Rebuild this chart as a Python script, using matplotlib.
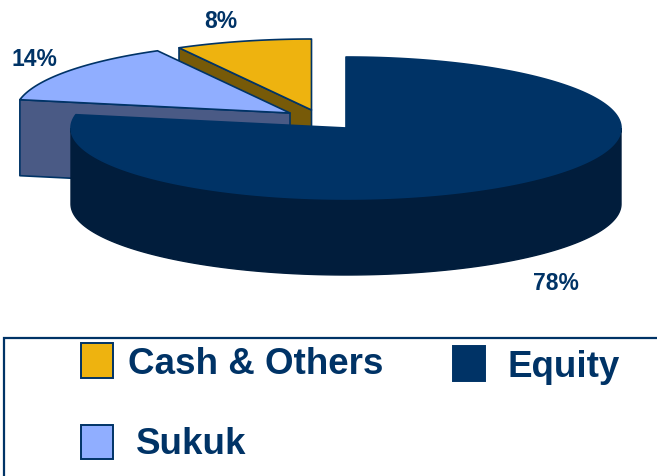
#!/usr/bin/env python3
import numpy as np
import matplotlib
matplotlib.use("Agg")
import matplotlib.pyplot as plt
from matplotlib.patches import Polygon, Rectangle

# in pie order, clockwise from 12 o'clock
labels = ["Equity", "Sukuk", "Cash & Others"]
values = [78, 14, 8]
top_colors = ["#003366", "#90aeff", "#eeb30f"]
side_colors = ["#011d3c", "#4a5a85", "#775a08"]

EDGE = "#003366"
RX, RY, DEPTH = 275, 71, 76
apexes = {"Equity": (346, 129), "Sukuk": (290, 114), "Cash & Others": (311.5, 111)}
label_pos = {"Equity": (556, 284), "Sukuk": (34, 59.5), "Cash & Others": (221, 22)}
legend_pos = {
    "Cash & Others": (80.5, 343.5, 32, 35, 128, 364.5),
    "Equity": (452.5, 346.5, 32, 35, 508, 368),
    "Sukuk": (80.5, 425.5, 32, 34.5, 136, 445),
}

plt.rcParams["font.family"] = ["Liberation Sans", "DejaVu Sans"]

fig = plt.figure(figsize=(6.57, 4.77), dpi=100)
ax = fig.add_axes([0, 0, 1, 1])
ax.set_xlim(0, 657)
ax.set_ylim(477, 0)
ax.axis("off")


def arc(apex, start, end, drop=0):
    t = np.radians(np.linspace(start, end, 200))
    return np.column_stack([apex[0] + RX * np.cos(t), apex[1] + drop - RY * np.sin(t)])


# angles of each slice, the ellipse parameter runs counter clockwise from 3 o'clock
stops = 90 - np.cumsum([0] + values) * 3.6
slices = {}
for i, name in enumerate(labels):
    slices[name] = (stops[i], stops[i + 1], top_colors[i], side_colors[i])


def draw_cut_face(name):
    # flat face showing where the slice was cut, the side facing the viewer
    start, end, top, side = slices[name]
    ax0, ay0 = apexes[name]
    outer = arc(apexes[name], start, start)[0]
    pts = [(ax0, ay0), tuple(outer), (outer[0], outer[1] + DEPTH), (ax0, ay0 + DEPTH)]
    ax.add_patch(Polygon(pts, closed=True, fc=side, ec=EDGE, lw=1.2, joinstyle="round"))


def draw_top(name):
    start, end, top, side = slices[name]
    pts = np.vstack([[apexes[name]], arc(apexes[name], start, end)])
    ax.add_patch(Polygon(pts, closed=True, fc=top, ec=EDGE, lw=1.2, joinstyle="round"))


draw_cut_face("Cash & Others")
draw_top("Cash & Others")
draw_cut_face("Sukuk")
draw_top("Sukuk")

# outer rim of the big slice, only its front part shows
eq_side = slices["Equity"][3]
front_a = arc(apexes["Equity"], 180, 360)
front_b = arc(apexes["Equity"], 360, 180, drop=DEPTH)
ax.add_patch(Polygon(np.vstack([front_a, front_b]), closed=True, fc=eq_side, ec=eq_side, lw=1))
draw_top("Equity")

for name, v in zip(labels, values):
    x, y = label_pos[name]
    ax.text(x, y, f"{v}%", color=EDGE, fontsize=16.5, fontweight="bold", ha="center", va="center")

# legend frame runs off the picture on the right and at the bottom
ax.plot([4, 4, 657], [477, 338.5, 338.5], color=EDGE, lw=1.6, solid_joinstyle="miter")

for name, color in zip(labels, top_colors):
    x, y, w, h, tx, ty = legend_pos[name]
    ax.add_patch(Rectangle((x, y), w, h, fc=color, ec=EDGE, lw=1.4))
    ax.text(tx, ty, name, color=EDGE, fontsize=26.5, fontweight="bold", ha="left", va="center")

fig.savefig("out.png", dpi=100)
